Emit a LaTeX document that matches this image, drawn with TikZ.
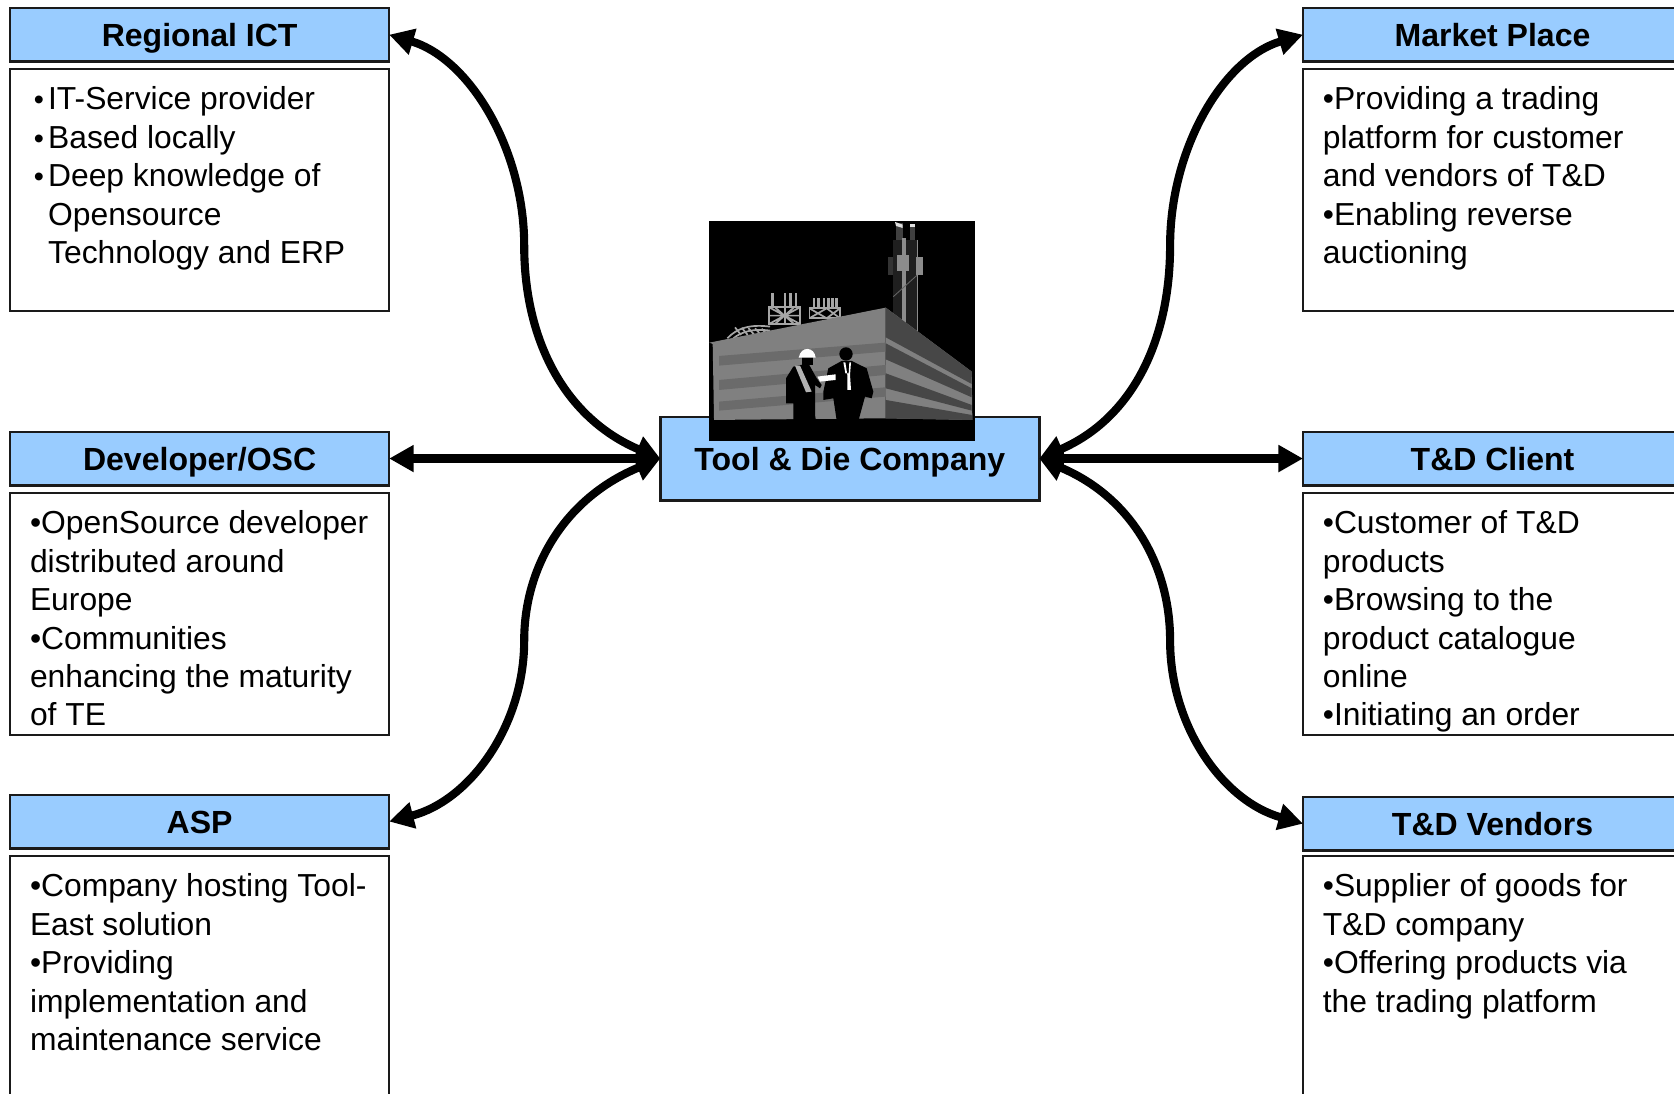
\documentclass[tikz,border=0pt]{standalone}
\usepackage{fontspec}
\setmainfont{Liberation Sans}
\usetikzlibrary{arrows.meta}
\definecolor{hdrblue}{HTML}{99CCFF}
\definecolor{edgeink}{HTML}{1A1A1A}
\tikzset{
  hdr/.style={draw=edgeink,line width=1.25pt,outer sep=0pt,fill=hdrblue,anchor=north west,minimum width=177.5pt,minimum height=25pt,inner sep=0pt,text height=14pt,text depth=3.2pt,font=\bfseries\fontsize{15}{18}\selectfont,text=black},
  bodybox/.style={draw=edgeink,line width=1.1pt,outer sep=0pt,fill=white,anchor=north west,minimum width=177.5pt,inner sep=0pt},
  bodytext/.style={anchor=north west,inner sep=0pt,align=left,font=\fontsize{14.9}{18}\selectfont,text=black},
  toolbox/.style={draw=edgeink,line width=1.25pt,outer sep=0pt,fill=hdrblue,anchor=north west,minimum width=177.5pt,minimum height=39pt,inner sep=0pt},
  toollabel/.style={inner sep=0pt,text height=14pt,text depth=3.2pt,font=\bfseries\fontsize{15}{18}\selectfont,text=black},
  link/.style={line width=3.8pt,draw=black,{Triangle[length=11.5pt,width=12pt]}-{Triangle[length=11.5pt,width=12pt]}},
  steel/.style={draw=black!35,line width=0.8pt}
}
\newcommand{\hb}{\makebox[8.5pt][l]{\kern1.8pt\fontsize{13.5}{18}\selectfont •}}
\newcommand{\hs}{\hspace*{8.5pt}}
\begin{document}
\begin{tikzpicture}[x=0.5pt,y=-0.5pt]
\useasboundingbox (0,0) rectangle (1568,1024);
\clip (0,0) rectangle (1568,1024);
\fill[white] (0,0) rectangle (1568,1024);

% left column
\node[hdr] (h1) at (9.5,7.5) {Regional ICT};
\node[bodybox,minimum height=113.5pt] (b1) at (9.5,64.5) {};
\node[bodytext] (t1) at (27.7,81) {\hb IT-Service provider\\\hb Based locally\\\hb Deep knowledge of\\\hs Opensource\\\hs Technology and ERP};

\node[hdr] (h2) at (9.5,404.5) {Developer/OSC};
\node[bodybox,minimum height=113.5pt] (b2) at (9.5,461.5) {};
\node[bodytext] (t2) at (27.7,478) {•OpenSource developer\\distributed around\\Europe\\•Communities\\enhancing the maturity\\of TE};

\node[hdr] (h3) at (9.5,744.5) {ASP};
\node[bodybox,minimum height=118pt] (b3) at (9.5,801.5) {};
\node[bodytext] (t3) at (27.7,818) {•Company hosting Tool-\\East solution\\•Providing\\implementation and\\maintenance service};

% right column
\node[hdr] (h4) at (1220.5,7.5) {Market Place};
\node[bodybox,minimum height=113.5pt] (b4) at (1220.5,64.5) {};
\node[bodytext] (t4) at (1238.7,81) {•Providing a trading\\platform for customer\\and vendors of T\&D\\•Enabling reverse\\auctioning};

\node[hdr] (h5) at (1220.5,404.5) {T\&D Client};
\node[bodybox,minimum height=113.5pt] (b5) at (1220.5,461.5) {};
\node[bodytext] (t5) at (1238.7,478) {•Customer of T\&D\\products\\•Browsing to the\\product catalogue\\online\\•Initiating an order};

\node[hdr] (h6) at (1220.5,746.5) {T\&D Vendors};
\node[bodybox,minimum height=118pt] (b6) at (1220.5,801.5) {};
\node[bodytext] (t6) at (1238.7,818) {•Supplier of goods for\\T\&D company\\•Offering products via\\the trading platform};

% centre
\node[toolbox] (tool) at (618.5,390.5) {};

% factory picture
\begin{scope}[shift={(599.5,187.3)},x=0.1561pt,y=-0.1561pt]
  \fill[black] (207,63) rectangle (1005,722);
  % chimney
  \fill[black!88] (760,120) rectangle (832,395);
  \fill[black!75] (768,70) rectangle (790,120);
  \fill[black!75] (810,75) rectangle (826,120);
  \fill[black!12] (765,66) -- (788,74) -- (788,84) -- (768,78) -- cycle;
  \fill[black!12] (810,72) rectangle (826,80);
  \fill[black!80] (745,170) rectangle (760,225);
  \fill[black!45] (785,115) rectangle (797,370);
  \fill[black!45] (770,165) rectangle (807,212);
  \fill[black!45] (828,170) rectangle (848,224);
  \draw[black!60,line width=0.4pt] (760,290) -- (832,225);
  \draw[black!45,line width=0.5pt] (832,120) -- (832,395);
  % scaffolds
  \foreach \px in {398,435,452,468} \fill[black!35] (\px-4,280) rectangle (\px+4,322);
  \draw[steel] (387,322) rectangle (480,372);
  \draw[steel] (387,322) -- (480,372) (387,372) -- (480,322) (435,322) -- (435,372) (405,322) -- (462,372) (462,322) -- (405,372) (387,347) -- (480,347);
  \foreach \px in {522,535,552,565,578,590} \fill[black!35] (\px-4,295) rectangle (\px+4,325);
  \draw[steel] (508,325) rectangle (600,355);
  \draw[steel] (508,325) -- (560,355) (560,325) -- (600,355) (508,355) -- (560,325) (560,355) -- (600,325);
  \draw[steel] (262,415) .. controls (290,385) and (330,372) .. (390,380);
  \draw[steel] (280,415) .. controls (305,395) and (340,385) .. (390,392);
  \foreach \px in {285,305,325,345,365} \draw[steel] (\px,383+\px/20-15) -- (\px+18,405);
  % building
  \fill[black!50] (208,428) -- (737,323) -- (737,655) -- (222,660) -- (218,432) -- cycle;
  \fill[black!58] (237,468) -- (737,428) -- (737,455) -- (237,497) -- cycle;
  \fill[black!58] (237,540) -- (737,495) -- (737,525) -- (237,570) -- cycle;
  \fill[black!58] (237,605) -- (737,562) -- (737,590) -- (237,632) -- cycle;
  \fill[black!50] (737,323) -- (995,515) -- (997,660) -- (737,655) -- cycle;
  \fill[black!72] (737,323) -- (995,515) -- (995,552) -- (737,412) -- cycle;
  \fill[black!72] (737,430) -- (995,565) -- (995,592) -- (737,478) -- cycle;
  \fill[black!72] (737,520) -- (995,615) -- (995,632) -- (737,565) -- cycle;
  \fill[black!72] (737,600) -- (995,645) -- (997,660) -- (737,655) -- cycle;
  % men
  \begin{scope}[shift={(390,405)}]
    \fill[black] (228,57) circle (20);
    \fill[black] (215,78) -- (245,78) -- (290,100) -- (310,170) -- (305,190) -- (285,185) -- (270,240) -- (255,298) -- (258,308) -- (232,310) -- (228,295) -- (215,310) -- (190,308) -- (205,290) -- (190,190) -- (160,195) -- (160,170) -- (175,100) -- cycle;
    \fill[white] (220,82) -- (226,82) -- (232,120) -- (232,165) -- (243,165) -- (240,120) -- (243,82) -- (238,82) -- (236,115) -- (226,115) -- cycle;
    \fill[black] (95,60) rectangle (130,90);
    \fill[white] (86,68) .. controls (90,50) and (100,42) .. (112,42) .. controls (125,42) and (135,52) .. (137,68) -- cycle;
    \fill[black] (70,95) -- (115,85) -- (140,130) -- (155,150) -- (150,160) -- (135,150) -- (135,240) -- (145,300) -- (160,308) -- (110,315) -- (100,300) -- (95,315) -- (62,312) -- (70,260) -- (70,205) -- (48,205) -- (48,130) -- cycle;
    \fill[black!30] (75,92) -- (90,92) -- (125,170) -- (108,172) -- cycle;
    \fill[white] (142,125) -- (197,118) -- (197,135) -- (150,140) -- cycle;
  \end{scope}
\end{scope}

\node[toollabel] (toollbl) at (796,430) {Tool \& Die Company};

% connectors
\draw[link] (tool.west) .. controls (530,392) and (491,320) .. (491,230) .. controls (491,140) and (440,55) .. (h1.east);
\draw[link] (tool.west) -- (tool.west -| h2.east);
\draw[link] (tool.west) .. controls (530,466) and (491,530) .. (491,600) .. controls (491,680) and (440,750) .. (h3.east);
\draw[link] (tool.east) .. controls (1060,392) and (1096,320) .. (1096,230) .. controls (1096,140) and (1145,55) .. (h4.west);
\draw[link] (tool.east) -- (tool.east -| h5.west);
\draw[link] (tool.east) .. controls (1060,466) and (1096,530) .. (1096,600) .. controls (1096,680) and (1145,750) .. (h6.west);
\end{tikzpicture}
\end{document}
